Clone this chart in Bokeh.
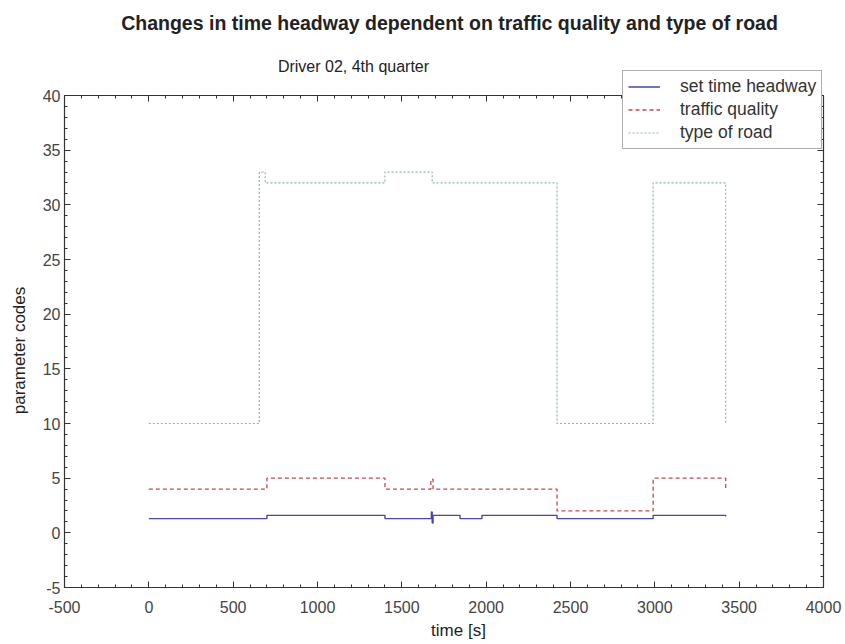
import math
from bokeh.plotting import figure
from bokeh.models import (Range1d, SingleIntervalTicker, LinearAxis, Label, Legend, LegendItem,
                          PrintfTickFormatter)
from bokeh.embed import file_html
from bokeh.resources import INLINE

# ---- data ----
headway_t = [0, 700, 1400, 1675, 1680, 1685, 1690, 1845, 1975, 2420, 2990, 3420]
headway_v = [1.3, 1.6, 1.3, 1.9, 0.9, 1.6, 1.6, 1.3, 1.6, 1.3, 1.6, 1.5]

traffic_t = [0, 700, 1400, 1672, 1685, 2420, 2990, 3420]
traffic_v = [4, 5, 4, 4.9, 4, 2, 5, 4]

road_t = [0, 655, 690, 1400, 1680, 2420, 2990, 3420]
road_v = [10, 33, 32, 33, 32, 10, 32, 10]

title_text = "Changes in time headway dependent on traffic quality and type of road"
subtitle_text = "Driver 02, 4th quarter"
x_label = "time [s]"
y_label = "parameter codes"
legend_labels = ["set time headway", "traffic quality", "type of road"]

X_MIN, X_MAX = -500, 4000
Y_MIN, Y_MAX = -5, 40

FONT = "Liberation Sans"
AXC = "#333333"

# Layout: the drawing frame covers the whole canvas; the axis box
# (x -500..4000, y -5..40) occupies pixels 64..823 x 95..587.
W, H = 845, 644
BOX_L, BOX_R, BOX_T, BOX_B = 64, 823, 95, 587
ppx = (BOX_R - BOX_L) / (X_MAX - X_MIN)
ppy = (BOX_B - BOX_T) / (Y_MAX - Y_MIN)
x_lo = X_MIN - BOX_L / ppx
x_hi = X_MAX + (W - BOX_R) / ppx
y_hi = Y_MAX + BOX_T / ppy
y_lo = Y_MIN - (H - BOX_B) / ppy

p = figure(width=W, height=H, output_backend="svg", toolbar_location=None,
           x_range=Range1d(x_lo, x_hi), y_range=Range1d(y_lo, y_hi),
           min_border_left=0, min_border_right=0, min_border_top=0,
           min_border_bottom=0, x_axis_location=None, y_axis_location=None)
p.grid.visible = False
p.outline_line_color = None
p.background_fill_color = "white"
p.border_fill_color = "white"

xt = SingleIntervalTicker(interval=500, num_minor_ticks=5)
yt = SingleIntervalTicker(interval=5, num_minor_ticks=5)

def style_axis(ax, labels=True):
    ax.axis_line_color = AXC
    ax.axis_line_width = 1.2
    ax.major_tick_line_color = AXC
    ax.minor_tick_line_color = AXC
    ax.major_tick_in = 6
    ax.major_tick_out = 0
    ax.minor_tick_in = 3
    ax.minor_tick_out = 0
    ax.major_label_text_font = FONT
    ax.major_label_text_color = "#444444" if labels else None
    ax.major_label_text_font_size = "16px"
    ax.formatter = PrintfTickFormatter(format="%d")

bottom_ax = LinearAxis(ticker=xt, fixed_location=Y_MIN, bounds=(X_MIN, X_MAX))
left_ax = LinearAxis(ticker=yt, fixed_location=X_MIN, bounds=(Y_MIN, Y_MAX))
top_ax = LinearAxis(ticker=xt, fixed_location=Y_MAX, bounds=(X_MIN, X_MAX))
right_ax = LinearAxis(ticker=yt, fixed_location=X_MAX, bounds=(Y_MIN, Y_MAX))
style_axis(bottom_ax)
style_axis(left_ax)
style_axis(top_ax, labels=False)
style_axis(right_ax, labels=False)
bottom_ax.major_label_standoff = 13
left_ax.major_label_standoff = 4
p.add_layout(bottom_ax, "below")
p.add_layout(left_ax, "left")
p.add_layout(top_ax, "above")
p.add_layout(right_ax, "right")

r_head = p.step(headway_t, headway_v, mode="after", line_color="#4646a6", line_width=1.4)
r_traf = p.step(traffic_t, traffic_v, mode="after", line_color="#c84a4a", line_width=1.3,
                line_dash="4 3")
r_road = p.step(road_t, road_v, mode="after", line_color="#8db3b3", line_width=1.2,
                line_dash="2 2")

legend = Legend(items=[LegendItem(label=legend_labels[0], renderers=[r_head]),
                       LegendItem(label=legend_labels[1], renderers=[r_traf]),
                       LegendItem(label=legend_labels[2], renderers=[r_road])],
                location=(622, H - 149))
legend.border_line_color = "#5a5a5a"
legend.border_line_width = 1.8
legend.background_fill_color = "white"
legend.background_fill_alpha = 1.0
legend.label_text_font = FONT
legend.label_text_font_size = "17.5px"
legend.label_text_color = "#333333"
legend.glyph_width = 32
legend.glyph_height = 17
legend.label_height = 17
legend.label_standoff = 20
legend.padding = 5
legend.spacing = 2
legend.margin = 0
p.add_layout(legend, "center")

def add_text(text, x, y, size, bold=False, angle=0.0):
    p.add_layout(Label(x=x, y=H - y, x_units="screen", y_units="screen", text=text,
                       angle=angle, text_align="center", text_baseline="middle",
                       text_font=FONT, text_font_style="bold" if bold else "normal",
                       text_font_size=size, text_color="#222222"))

add_text(title_text, 449, 22, "19.5px", bold=True)
add_text(subtitle_text, 353, 66, "16px")
add_text(x_label, 458, 630, "17px")
add_text(y_label, 19, 350, "17px", angle=math.pi / 2)

open("out.html", "w").write(file_html(p, INLINE))
